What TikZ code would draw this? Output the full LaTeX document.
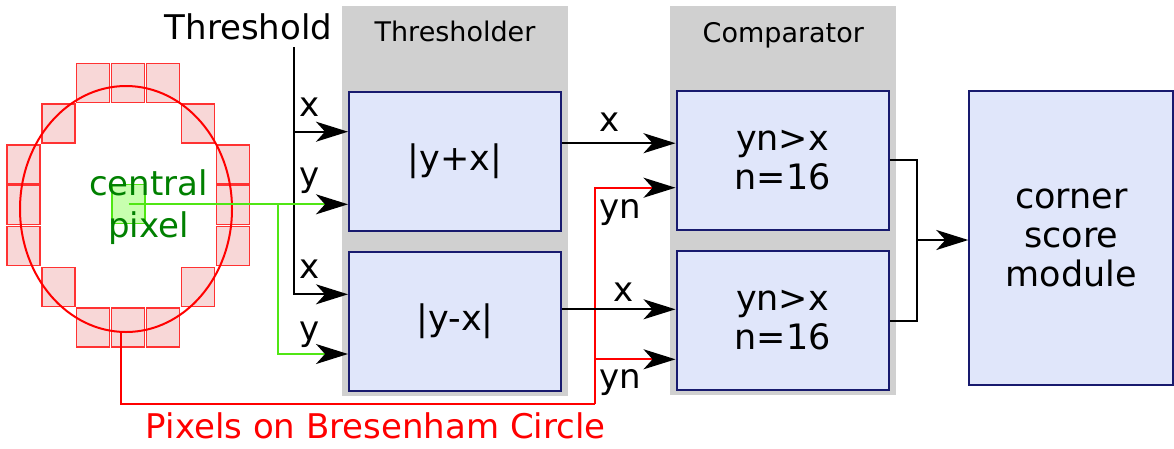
\documentclass[tikz,border=0pt]{standalone}
\usepackage{fontspec}
\setmainfont{DejaVu Sans}
\usetikzlibrary{arrows.meta,positioning}
\definecolor{panel}{RGB}{208,208,208}
\definecolor{blockfill}{RGB}{224,230,250}
\definecolor{blockline}{RGB}{24,26,110}
\definecolor{pixfill}{RGB}{248,215,215}
\definecolor{pixline}{RGB}{255,50,50}
\definecolor{ctrfill}{RGB}{200,255,175}
\definecolor{wire}{RGB}{80,230,20}
\definecolor{ctrtext}{RGB}{0,128,0}

\begin{document}
\begin{tikzpicture}[
  x=1pt, y=-1pt,
  font=\fontsize{35}{39}\selectfont,
  blk/.style={draw=blockline, fill=blockfill, line width=2pt, align=center, inner sep=0pt},
  bg/.style={fill=panel, inner sep=0pt, minimum width=226pt},
  ttl/.style={font=\fontsize{27}{32}\selectfont, anchor=base},
  pix/.style={draw=pixline, fill=pixfill, line width=1.3pt, minimum width=33pt,
              minimum height=39pt, inner sep=0pt},
  ar/.style={-{Stealth[length=32pt, width=20pt, inset=9pt, color=black]}, line width=2pt},
  ln/.style={line width=2pt},
  lab/.style={anchor=base, inner sep=0pt, font=\fontsize{34}{40}\selectfont},
]
\useasboundingbox (0,0) rectangle (1174,448);

% ---- panels ---------------------------------------------------------------
\node[bg, minimum height=390pt] (thrpanel) at (455,201) {};
\node[bg, minimum height=389pt] (cmppanel) at (783,200.5) {};
\node[ttl] (thrttl) at (455,41.7)  {Thresholder};
\node[ttl] (cmpttl) at (783.3,42.7) {Comparator};

% ---- bresenham circle -----------------------------------------------------
\foreach \c/\r in {2/0,3/0,4/0,1/1,5/1,0/2,6/2,0/3,6/3,0/4,6/4,1/5,5/5,2/6,3/6,4/6}
  \node[pix] (p\c\r) at (23.5+34.9*\c, 82.8+40.8*\r) {};
\draw[red, ln] (126,209) ellipse [x radius=106pt, y radius=123pt];
\node[pix, draw=wire, fill=ctrfill] (ctr) at (128.5,204.3) {};
\node[text=ctrtext, align=center, font=\fontsize{34}{41.7}\selectfont] (ctrlbl)
  at (148.5,207) {central\\pixel};

% ---- blocks ---------------------------------------------------------------
\node[blk, minimum width=212pt, minimum height=139pt] (th1) at (455,161.3) {|y+x|};
\node[blk, minimum width=212pt, minimum height=139pt] (th2) at (455,321.2) {|y-x|};
\node[blk, minimum width=212pt, minimum height=139pt] (cp1) at (782.5,160.2) {yn>x\\n=16};
\node[blk, minimum width=212pt, minimum height=139pt] (cp2) at (782.5,320.5) {yn>x\\n=16};
\node[blk, minimum width=204pt, minimum height=294pt] (score) at (1071.3,238)
  {corner\\score\\module};

% ---- ports ----------------------------------------------------------------
\coordinate (in1x)  at ([yshift=29.6pt]th1.west);
\coordinate (in1y)  at (ctr.center -| th1.west);
\coordinate (in2x)  at ([yshift=26.9pt]th2.west);
\coordinate (in2y)  at ([yshift=-32.8pt]th2.west);
\coordinate (cin1x) at ([yshift=17pt]cp1.west);
\coordinate (cin1y) at ([yshift=-27.5pt]cp1.west);
\coordinate (cin2x) at ([yshift=11.2pt]cp2.west);
\coordinate (cin2y) at ([yshift=-38.8pt]cp2.west);

% ---- threshold input ------------------------------------------------------
\node[anchor=base, font=\fontsize{34}{40}\selectfont] (thr) at (248.5,39.3) {Threshold};
\coordinate (tstem) at (294,47.3);
\draw[ar] (tstem) |- (in2x);
\draw[ar] (tstem |- in1x) -- (in1x);

% ---- central pixel wires --------------------------------------------------
\coordinate (gsplit) at (278.3,204.3);
\draw[ar, wire] (ctr.center) -- (in1y);
\draw[ar, wire] (gsplit) |- (in2y);

% ---- circle pixel wires ---------------------------------------------------
\coordinate (rstart) at (120.7,331.7);
\coordinate (rturn)  at (595,404.3);
\draw[red, ln] (rstart) |- (rturn);
\draw[ar, red] (rturn) |- (cin1y);
\draw[ar, red] (rturn |- cin2y) -- (cin2y);
\node[red, anchor=base, font=\fontsize{34}{40}\selectfont] (bres) at (375.8,438.3)
  {Pixels on Bresenham Circle};

% ---- thresholder to comparator --------------------------------------------
\draw[ar] (th1.east |- cin1x) -- (cin1x);
\draw[ar] (th2.east |- cin2x) -- (cin2x);

% ---- comparator to score --------------------------------------------------
\coordinate (join) at (916.7,240);
\draw[ln] (cp1.east) -| (join) |- (cp2.east);
\draw[ar] (join) -- (join -| score.west);

% ---- labels ---------------------------------------------------------------
\node[lab] (lx1)  at (309.3,116.7) {x};
\node[lab] (ly1)  at (309.3,186.7) {y};
\node[lab] (lx2)  at (309.3,278.3) {x};
\node[lab] (ly2)  at (309.3,340)   {y};
\node[lab] (lx3)  at (610,131.7)   {x};
\node[lab] (lyn1) at (620,218.3)   {yn};
\node[lab] (lx4)  at (623.3,301.7) {x};
\node[lab] (lyn2) at (620,388.3)   {yn};

\end{tikzpicture}
\end{document}
